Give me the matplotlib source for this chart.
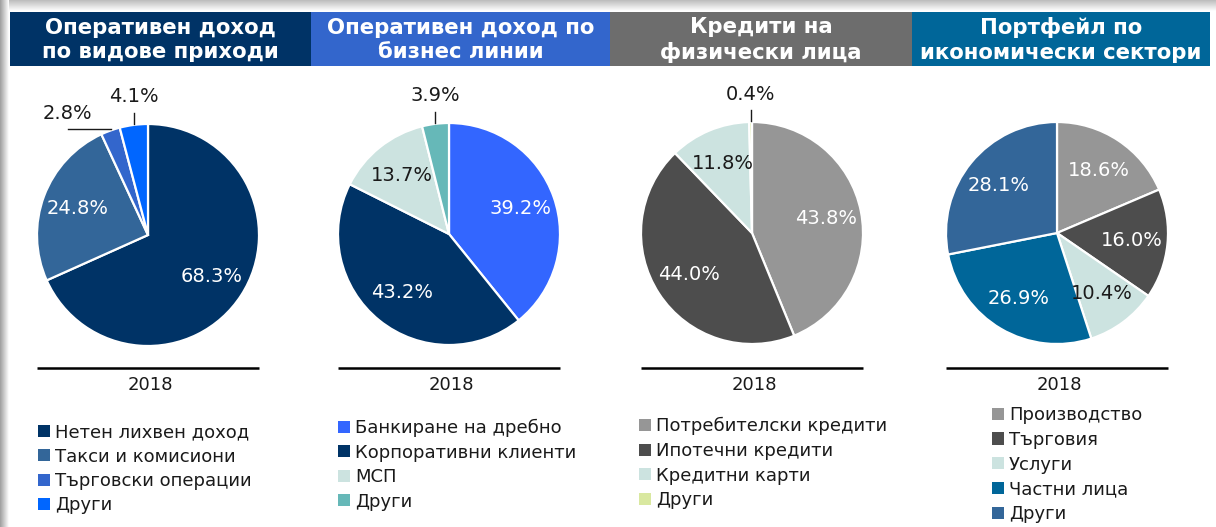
import numpy as np
import matplotlib
matplotlib.use("Agg")
import matplotlib.pyplot as plt
from matplotlib.patches import Rectangle, Patch
from matplotlib.legend import Legend
from matplotlib.colors import to_rgb

# ---------------- data ----------------
titles = ["Оперативен доход\nпо видове приходи",
          "Оперативен доход по\nбизнес линии",
          "Кредити на\nфизически лица",
          "Портфейл по\nикономически сектори"]
title_colors = ["#003366", "#3366CC", "#6D6D6D", "#006699"]
year_label = "2018"

labels1 = ["Нетен лихвен доход", "Такси и комисиони", "Търговски операции", "Други"]
values1 = [68.3, 24.8, 2.8, 4.1]
colors1 = ["#003366", "#336699", "#3366CC", "#0066FF"]

labels2 = ["Банкиране на дребно", "Корпоративни клиенти", "МСП", "Други"]
values2 = [39.2, 43.2, 13.7, 3.9]
colors2 = ["#3366FF", "#003366", "#CCE3E0", "#66B8B8"]

labels3 = ["Потребителски кредити", "Ипотечни кредити", "Кредитни карти", "Други"]
values3 = [43.8, 44.0, 11.8, 0.4]
colors3 = ["#969696", "#4D4D4D", "#CCE3E0", "#D9E8A0"]

labels4 = ["Производство", "Търговия", "Услуги", "Частни лица", "Други"]
values4 = [18.6, 16.0, 10.4, 26.9, 28.1]
colors4 = ["#969696", "#4D4D4D", "#CCE3E0", "#006699", "#336699"]

# ---------------- layout ----------------
W, H = 1216, 527
def Y(y):
    return H - y

fig = plt.figure(figsize=(W / 100, H / 100), dpi=100)
fig.patch.set_facecolor("white")
ax = fig.add_axes([0, 0, 1, 1])
ax.axis("off")

# frame shadow
grad_top = np.linspace(0.74, 1.0, 32).reshape(-1, 1)
ax.imshow(np.dstack([grad_top] * 3), extent=(0, W, Y(11), Y(0)), aspect="auto", zorder=0)
grad_left = np.linspace(0.62, 1.0, 32).reshape(1, -1)
ax.imshow(np.dstack([grad_left] * 3), extent=(0, 9, Y(H), Y(0)), aspect="auto", zorder=0)

box_edges = [10, 311, 610, 912, 1210]
box_top, box_bot = 12, 66
for i, (t, c) in enumerate(zip(titles, title_colors)):
    x0, x1 = box_edges[i], box_edges[i + 1]
    ax.add_patch(Rectangle((x0, Y(box_bot)), x1 - x0, box_bot - box_top,
                           facecolor=c, edgecolor="none", zorder=2))
    ax.text((x0 + x1) / 2, Y((box_top + box_bot) / 2 + 1), t, color="white",
            fontsize=15.3, fontweight="bold", ha="center", va="center",
            linespacing=1.27, zorder=3)

centers = [(148, 235), (449, 234), (752, 233), (1057, 233)]
R = 111
pies = [(values1, colors1, labels1), (values2, colors2, labels2),
        (values3, colors3, labels3), (values4, colors4, labels4)]
# outside labels: pie index -> {slice index: style}
outside = {0: {2: "left", 3: "up"}, 1: {3: "up"}, 2: {3: "up"}}
legend_pos = [(38, 423), (338, 419), (639, 417), (992, 406)]
legend_spacing = [0.36, 0.36, 0.37, 0.38]

def is_light(c):
    r, g, b = to_rgb(c)
    return 0.299 * r + 0.587 * g + 0.114 * b > 0.6

PCT_FS = 14
for k, ((vals, cols, labs), (cx, cy)) in enumerate(zip(pies, centers)):
    wedges, _ = ax.pie(vals, colors=cols, startangle=90, counterclock=False,
                       center=(cx, Y(cy)), radius=R,
                       wedgeprops=dict(edgecolor="white", linewidth=1.6))
    for i, (w, v) in enumerate(zip(wedges, vals)):
        ang = np.deg2rad((w.theta1 + w.theta2) / 2)
        txt = f"{v:.1f}%"
        style = outside.get(k, {}).get(i)
        ex, ey = cx + R * np.cos(ang), Y(cy) + R * np.sin(ang)
        if style is None:
            d = 0.68 * R
            ax.text(cx + d * np.cos(ang), Y(cy) + d * np.sin(ang), txt,
                    color="#1a1a1a" if is_light(cols[i]) else "white",
                    fontsize=PCT_FS, ha="center", va="center", zorder=5)
        elif style == "up":
            ax.plot([ex, ex], [ey + 1, ey + 12], color="#1a1a1a", lw=1.0, zorder=5)
            ax.text(ex, ey + 28, txt, color="#1a1a1a", fontsize=PCT_FS,
                    ha="center", va="center", zorder=5)
        else:  # left
            lx = ex - 42
            ax.plot([ex + 1, lx], [ey + 2, ey + 2], color="#1a1a1a", lw=1.0, zorder=5)
            ax.text(lx - 1, ey + 17, txt, color="#1a1a1a", fontsize=PCT_FS,
                    ha="center", va="center", zorder=5)
    # baseline + year
    ax.plot([cx - R, cx + R], [Y(368), Y(368)], color="black", lw=1.8,
            solid_capstyle="butt", zorder=4)
    ax.text(cx + 2, Y(385), year_label, fontsize=13, color="#1a1a1a",
            ha="center", va="center", zorder=4)
    # legend
    lx, ly = legend_pos[k]
    handles = [Patch(facecolor=c, edgecolor="none") for c in cols]
    leg = Legend(ax, handles, labs, loc="upper left",
                 bbox_to_anchor=(lx, Y(ly)), bbox_transform=ax.transData,
                 frameon=False, fontsize=13, handlelength=0.65, handleheight=0.65,
                 handletextpad=0.3, labelspacing=legend_spacing[k], borderpad=0,
                 borderaxespad=0)
    for t in leg.get_texts():
        t.set_color("#1a1a1a")
    ax.add_artist(leg)

ax.set_aspect("auto")
ax.set_xlim(0, W)
ax.set_ylim(0, H)

fig.savefig("out.png", dpi=100, facecolor="white")
